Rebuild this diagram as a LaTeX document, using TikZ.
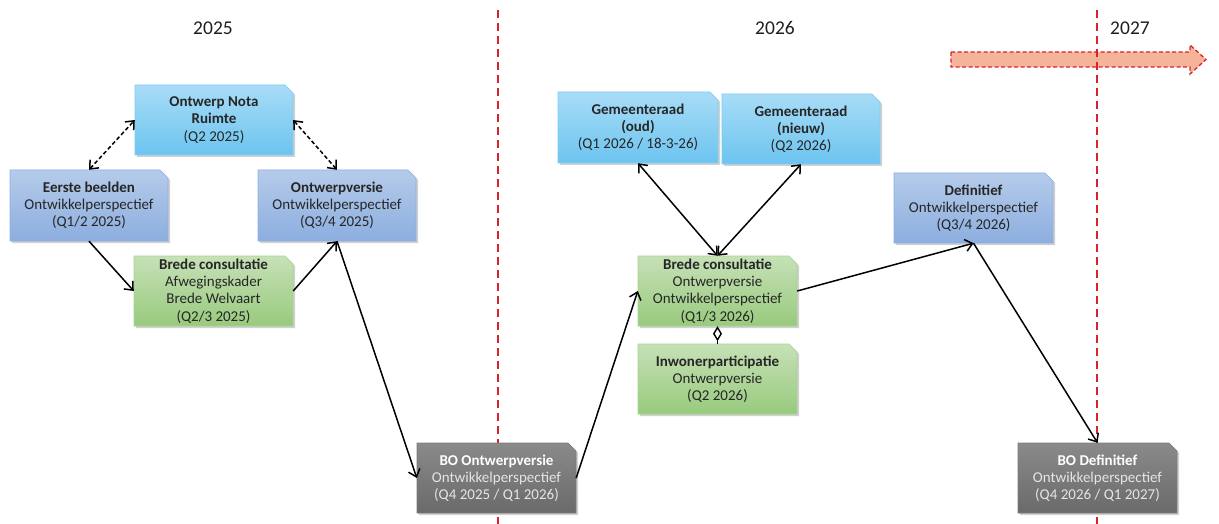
\documentclass[tikz,border=0pt]{standalone}
\usepackage{fontspec}
\setmainfont{Carlito}
\usetikzlibrary{arrows.meta}
\definecolor{lbTop}{HTML}{A8DCF7}
\definecolor{lbBot}{HTML}{6CC4EF}
\definecolor{lbBrd}{HTML}{7FCDF2}
\definecolor{bTop}{HTML}{B5CBEA}
\definecolor{bBot}{HTML}{8CAEDF}
\definecolor{bBrd}{HTML}{8EB0DE}
\definecolor{gTop}{HTML}{C6E1B7}
\definecolor{gBot}{HTML}{98CA7D}
\definecolor{gBrd}{HTML}{A8D38F}
\definecolor{grTop}{HTML}{8A8A8A}
\definecolor{grBot}{HTML}{6A6A6A}
\definecolor{grBrd}{HTML}{7A7A7A}
\definecolor{txt}{HTML}{262626}
\definecolor{redl}{HTML}{D8232A}
\definecolor{salmon}{HTML}{F5B49A}
\newcommand{\snipbox}[8]{%
  \fill[black!18] ({#2+2},{#3+2}) -- ({#2+2},{#5+2}) -- ({#4+2},{#5+2}) -- ({#4+2},{#3+10}) -- ({#4-6},{#3+2}) -- cycle;
  \path[#6] (#2,#3) -- (#2,#5) -- (#4,#5) -- (#4,{#3+8}) -- ({#4-8},#3) -- cycle;
  \node[#7,minimum width={(#4-#2)*1pt},minimum height={(#5-#3)*1pt}] (#1) at ({(#2+#4)/2},{(#3+#5)/2}) {#8};
}
\begin{document}
\begin{tikzpicture}[x=1pt,y=-1pt,
  lbluebox/.style={top color=lbTop,bottom color=lbBot,draw=lbBrd,line width=0.6pt},
  bluebox/.style={top color=bTop,bottom color=bBot,draw=bBrd,line width=0.6pt},
  greenbox/.style={top color=gTop,bottom color=gBot,draw=gBrd,line width=0.6pt},
  greybox/.style={top color=grTop,bottom color=grBot,draw=grBrd,line width=0.6pt},
  boxtext/.style={inner sep=0pt,align=center,text=txt,font=\fontsize{15}{17.2}\selectfont},
  greytext/.style={boxtext,text=white!90!black},
  year/.style={font=\fontsize{19.5}{22}\selectfont,text=black!88},
  redline/.style={draw=redl,line width=1.8pt,dash pattern=on 8pt off 5pt},
  tip/.style={},
  conn/.style={line width=1.5pt,-{Straight Barb[length=7pt,width=12pt,line width=1.5pt]}},
  dconn/.style={line width=1.5pt,dash pattern=on 4pt off 2.5pt,
     {Straight Barb[length=7pt,width=12pt,line width=1.5pt]}-{Straight Barb[length=7pt,width=12pt,line width=1.5pt]}},
  bconn/.style={line width=1.5pt,{Straight Barb[length=7pt,width=12pt,line width=1.5pt]}-{Straight Barb[length=7pt,width=12pt,line width=1.5pt]}},
  aggr/.style={line width=1.5pt,{Diamond[open,length=15pt,width=9pt,line width=1.4pt]}-}
]
\useasboundingbox (0,0) rectangle (1219,524);
\fill[white] (0,0) rectangle (1219,524);

% timeline arrow
\path[fill=salmon,draw=redl,line width=1.3pt,dash pattern=on 4pt off 2.5pt]
  (951,52) -- (1190,52) -- (1190,45) -- (1206,59.5) -- (1190,74) -- (1190,67) -- (951,67) -- cycle;

% year separators
\coordinate (s1t) at (498,10); \coordinate (s1b) at (498,524);
\coordinate (s2t) at (1097,10); \coordinate (s2b) at (1097,524);
\draw[redline] (s1t) -- (s1b);
\draw[redline] (s2t) -- (s2b);

\node[year] (y25) at (213,28) {2025};
\node[year] (y26) at (775,28) {2026};
\node[year] (y27) at (1130,28) {2027};

% boxes
\snipbox{onr}{135}{85}{293}{155}{lbluebox}{boxtext}{\textbf{Ontwerp Nota}\\\textbf{Ruimte}\\(Q2 2025)}
\snipbox{eb}{10}{170}{168}{241}{bluebox}{boxtext}{\textbf{Eerste beelden}\\Ontwikkelperspectief\\(Q1/2 2025)}
\snipbox{ov}{258}{170}{416}{241}{bluebox}{boxtext}{\textbf{Ontwerpversie}\\Ontwikkelperspectief\\(Q3/4 2025)}
\snipbox{bc1}{134}{256}{293}{326}{greenbox}{boxtext}{\textbf{Brede consultatie}\\Afwegingskader\\Brede Welvaart\\(Q2/3 2025)}
\snipbox{bo1}{417}{443}{576}{513}{greybox}{greytext}{\textcolor{white}{\textbf{BO Ontwerpversie}}\\Ontwikkelperspectief\\(Q4 2025 / Q1 2026)}
\snipbox{gem1}{558}{92}{718}{163}{lbluebox}{boxtext}{\textbf{Gemeenteraad}\\\textbf{(oud)}\\(Q1 2026 / 18-3-26)}
\snipbox{gem2}{722}{94}{880}{164}{lbluebox}{boxtext}{\textbf{Gemeenteraad}\\\textbf{(nieuw)}\\(Q2 2026)}
\snipbox{bc2}{638}{256}{797}{326}{greenbox}{boxtext}{\textbf{Brede consultatie}\\Ontwerpversie\\Ontwikkelperspectief\\(Q1/3 2026)}
\snipbox{inw}{638}{344}{797}{414}{greenbox}{boxtext}{\textbf{Inwonerparticipatie}\\Ontwerpversie\\(Q2 2026)}
\snipbox{def}{894}{173}{1053}{243}{bluebox}{boxtext}{\textbf{Definitief}\\Ontwikkelperspectief\\(Q3/4 2026)}
\snipbox{bo2}{1018}{443}{1177}{513}{greybox}{greytext}{\textcolor{white}{\textbf{BO Definitief}}\\Ontwikkelperspectief\\(Q4 2026 / Q1 2027)}

% connectors
\draw[dconn] (eb.north) -- (onr.west);
\draw[dconn] (onr.east) -- (ov.north);
\draw[conn] (eb.south) -- (bc1.west);
\draw[conn] (bc1.east) -- (ov.south);
\draw[conn] (ov.south) -- (bo1.west);
\draw[conn] (bo1.east) -- (bc2.west);
\draw[bconn] (gem1.south) -- (bc2.north);
\draw[bconn] (gem2.south) -- (bc2.north);
\draw[conn] (bc2.east) -- (def.south);
\draw[conn] (def.south) -- (bo2.north);
\draw[aggr] (bc2.south) -- (inw.north);
\end{tikzpicture}
\end{document}
